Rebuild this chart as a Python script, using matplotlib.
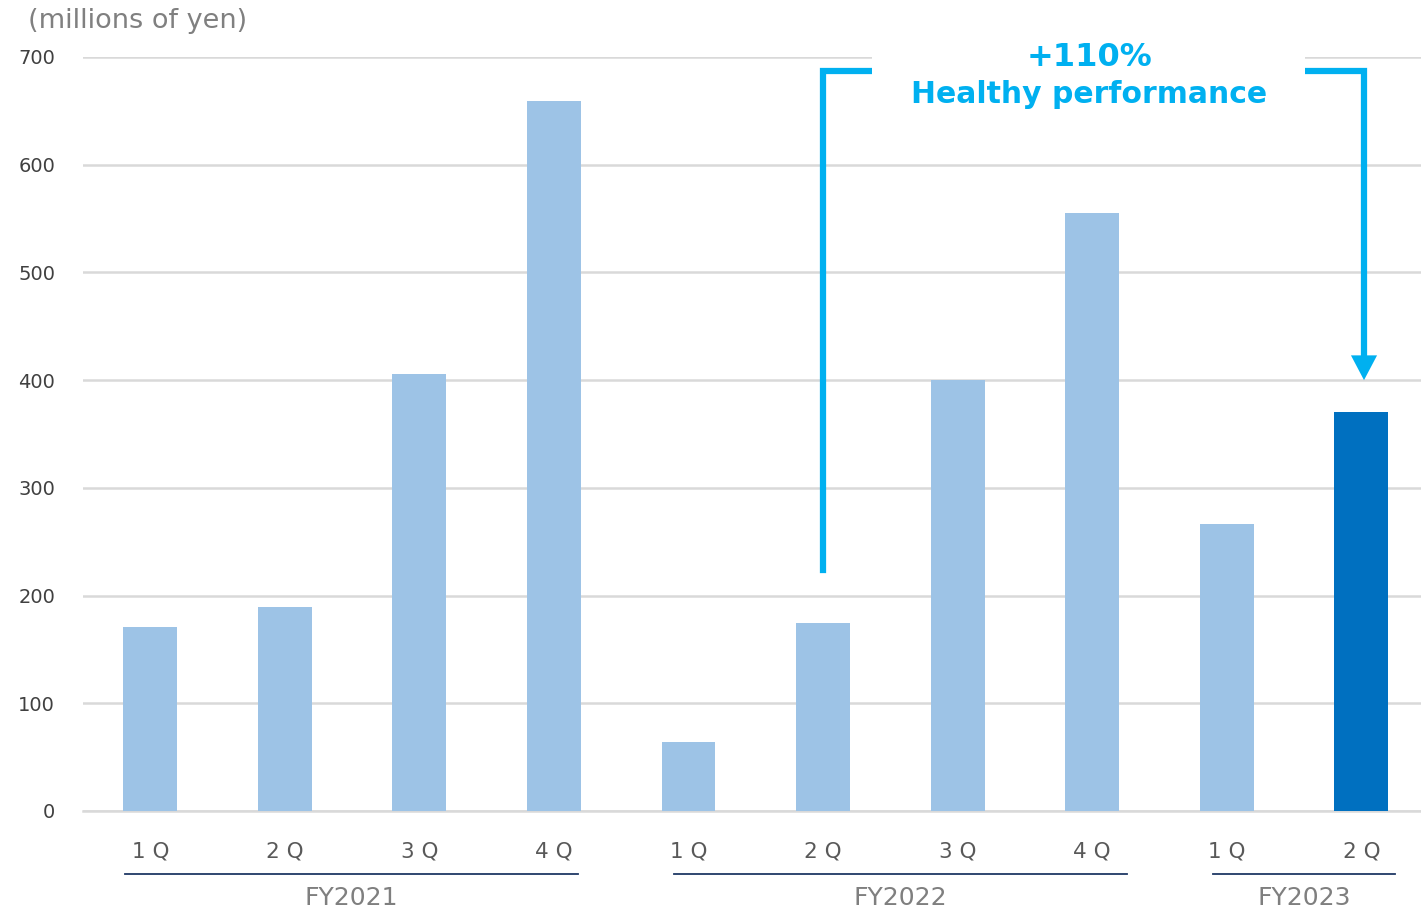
import matplotlib.pyplot as plt
from matplotlib.patches import Rectangle

# data
quarters = ["1 Q", "2 Q", "3 Q", "4 Q", "1 Q", "2 Q", "3 Q", "4 Q", "1 Q", "2 Q"]
values = [171, 189, 406, 659, 64, 175, 400, 555, 266, 370]
years = ["FY2021", "FY2022", "FY2023"]
year_lines = [(-0.19, 3.18), (3.89, 7.26), (7.9, 9.25)]

light = "#9DC3E6"
dark = "#0070C0"
cyan = "#00B0F0"

fig = plt.figure(figsize=(14.21, 9.11), dpi=100)
ax = fig.add_axes([83 / 1421, 100 / 911, 1345.6 / 1421, 754 / 911])

x = list(range(len(values)))
colors = [light] * (len(values) - 1) + [dark]
ax.bar(x, values, width=0.4, color=colors, zorder=3)

ax.set_xlim(-0.5, len(values) - 0.5)
ax.set_ylim(0, 700)
ax.set_yticks(range(0, 701, 100))
ax.yaxis.grid(True, color="#D9D9D9", lw=1.8, zorder=0)
ax.tick_params(axis="y", length=0, pad=20, labelsize=14, labelcolor="#404040")
ax.set_xticks(x)
ax.set_xticklabels(quarters, fontsize=15.5, color="#595959")
ax.tick_params(axis="x", length=0, pad=22)
for s in ["top", "right", "left"]:
    ax.spines[s].set_visible(False)
ax.spines["bottom"].set_color("#D9D9D9")
ax.spines["bottom"].set_linewidth(1.8)

# year groups
trans = ax.get_xaxis_transform()
for name, (a, b) in zip(years, year_lines):
    ax.plot([a, b], [-0.0836, -0.0836], color="#1F3864", lw=1.3,
            transform=trans, clip_on=False)
    ax.text((a + b) / 2, -0.116, name, transform=trans, ha="center", va="center",
            fontsize=18, color="#7F7F7F")

fig.text(28 / 1421, 1 - 21 / 911, "(millions of yen)", fontsize=19.5, color="#808080",
         ha="left", va="center")

# annotation bracket
ax.plot([5.0, 5.0, 5.4], [224, 687, 687], color=cyan, lw=4.5, solid_joinstyle="miter",
        clip_on=False, zorder=4)
ax.plot([8.5, 9.02, 9.02], [687, 687, 420], color=cyan, lw=4.5, solid_joinstyle="miter",
        clip_on=False, zorder=4)
ax.fill([9.02 - 0.097, 9.02 + 0.097, 9.02], [423, 423, 400], color=cyan, zorder=4,
        clip_on=False, lw=0)
ax.add_patch(Rectangle((5.365, 640), 8.58 - 5.365, 90, facecolor="white", edgecolor="none",
                       zorder=5, clip_on=False))
ax.text(6.98, 700, "+110%", ha="center", va="center", fontsize=23, fontweight="bold",
        color=cyan, zorder=6)
ax.text(6.98, 665, "Healthy performance", ha="center", va="center", fontsize=21.5,
        fontweight="bold", color=cyan, zorder=6)

fig.savefig("out.png", dpi=100)
